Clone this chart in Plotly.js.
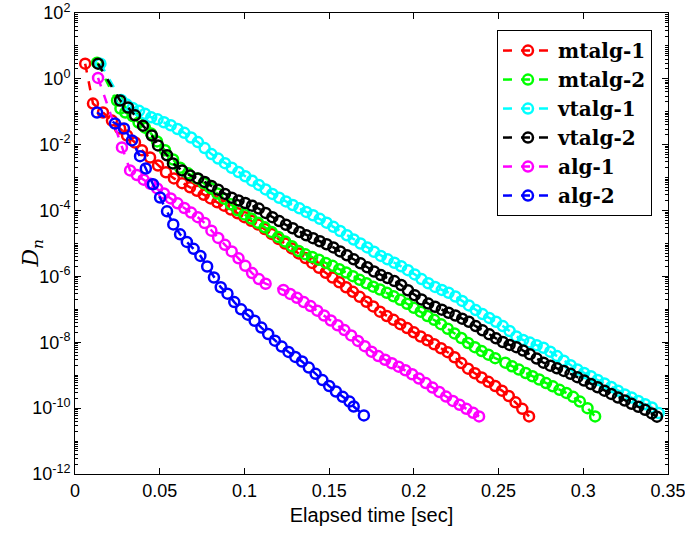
<!DOCTYPE html>
<html>
<head>
<meta charset="utf-8">
<script src="https://cdn.plot.ly/plotly-3.0.1.min.js"></script>
<style>html,body{margin:0;padding:0;background:#fff;}#chart{width:685px;height:534px;}</style>
</head>
<body>
<div id="chart"></div>
<script>
// ---- data (elapsed time [sec], D_n) ----
const seriesNames = ["mtalg-1", "mtalg-2", "vtalg-1", "vtalg-2", "alg-1", "alg-2"];
const seriesColors = ["#ff0000", "#00ff00", "#00ffff", "#000000", "#ff00ff", "#0000ff"];

const mtalg1_t = [0.006,0.0106,0.0165,0.0218,0.0266,0.0307,0.0354,0.0395,0.0443,0.049,0.0537,0.0584,0.0632,0.0679,
  0.072,0.076,0.080,0.084,0.088,0.092,0.096,0.100,0.104,0.108,0.112,0.116,0.120,0.124,0.128,0.132,0.136,0.140,0.144,0.148,
  0.152,0.156,0.160,0.164,0.168,0.172,0.176,0.180,0.184,0.188,0.192,0.196,0.200,0.204,0.208,0.212,0.216,0.220,0.224,0.228,
  0.232,0.236,0.240,0.244,0.248,0.252,0.256,0.260,0.264,0.268];
const mtalg1_D = [2.9,0.178,0.095,0.054,3.1e-2,1.9e-2,1.17e-2,6.8e-3,4.1e-3,2.34e-3,1.45e-3,9.5e-4,6.8e-4,5.1e-4,
  4.0e-4,3.0e-4,2.34e-4,1.78e-4,1.41e-4,1.07e-4,8.3e-5,6.3e-5,4.9e-5,3.8e-5,2.75e-5,1.95e-5,1.38e-5,1.0e-5,7.1e-6,5.0e-6,3.6e-6,2.57e-6,1.82e-6,1.29e-6,
  9.3e-7,6.6e-7,4.7e-7,3.4e-7,2.4e-7,1.7e-7,1.23e-7,8.5e-8,6.3e-8,4.8e-8,3.55e-8,2.7e-8,2.0e-8,1.5e-8,1.15e-8,8.7e-9,6.6e-9,5.0e-9,3.5e-9,2.34e-9,
  1.58e-9,1.15e-9,8.5e-10,6.3e-10,4.7e-10,3.4e-10,2.34e-10,1.5e-10,9.5e-11,5.6e-11];

const mtalg2_t = [0.013,0.0248,0.0268,0.0297,0.034,0.0375,0.0413,0.0448,0.0484,0.0531,0.0579,0.062,0.0667,0.072,
  0.076,0.080,0.084,0.088,0.092,0.096,0.100,0.104,0.108,0.112,0.116,0.120,0.124,0.128,0.132,0.136,0.140,0.144,0.148,0.152,
  0.156,0.160,0.164,0.168,0.172,0.176,0.180,0.184,0.188,0.192,0.196,0.200,0.204,0.208,0.212,0.216,0.220,0.224,0.228,0.232,
  0.236,0.240,0.244,0.248,0.254,0.258,0.262,0.266,0.270,0.274,0.278,0.282,0.286,0.290,0.294,0.298,0.3025,0.307];
const mtalg2_D = [3.1,0.22,0.126,0.095,0.074,0.047,0.033,0.022,0.0126,6.8e-3,3.55e-3,2.0e-3,1.35e-3,9.5e-4,
  6.8e-4,4.8e-4,3.3e-4,2.3e-4,1.55e-4,1.02e-4,7.6e-5,5.75e-5,4.3e-5,3.1e-5,2.24e-5,1.58e-5,1.15e-5,8.3e-6,5.9e-6,4.7e-6,3.9e-6,3.2e-6,2.57e-6,2.1e-6,
  1.66e-6,1.32e-6,1.02e-6,7.9e-7,6.2e-7,4.9e-7,4.0e-7,3.2e-7,2.5e-7,1.95e-7,1.48e-7,1.12e-7,8.5e-8,6.3e-8,4.8e-8,3.55e-8,2.57e-8,1.86e-8,1.35e-8,9.5e-9,
  7.1e-9,5.4e-9,4.2e-9,3.3e-9,2.4e-9,1.86e-9,1.48e-9,1.17e-9,9.3e-10,7.4e-10,5.75e-10,4.6e-10,3.6e-10,2.9e-10,2.2e-10,1.58e-10,1.0e-10,5.6e-11];

const vtalg1_t = [0.015,0.0272,0.0305,0.034,0.0378,0.0413,0.045,0.0487,0.0525,0.0565,0.0605,0.0645,0.0685,0.0725,
  0.0765,0.0805,0.0845,0.0885,0.0925,0.0965,0.1005,0.1045,0.1085,0.1125,0.1165,0.1205,0.1245,0.1285,0.1325,0.1365,0.1405,
  0.1445,0.1485,0.1525,0.1565,0.1605,0.1645,0.1685,0.1725,0.1765,0.1805,0.1845,0.1885,0.1925,0.1965,0.2005,0.2045,0.2085,
  0.2125,0.2165,0.2205,0.2245,0.2285,0.2325,0.2365,0.2405,0.2445,0.2485,0.2525,0.2565,0.2605,0.2645,0.2685,0.2725,0.2765,
  0.2805,0.2845,0.2885,0.2925,0.2965,0.3005,0.3045,0.3085,0.3125,0.3165,0.3205,0.3245,0.3285,0.3325,0.3365,0.3405,0.3445];
const vtalg1_D = [2.9,0.23,0.166,0.13,0.107,0.087,0.068,0.059,0.048,0.039,0.030,0.023,0.0166,0.012,
  7.9e-3,5.2e-3,3.8e-3,2.75e-3,2.0e-3,1.48e-3,1.1e-3,8.1e-4,6.0e-4,4.4e-4,3.2e-4,2.45e-4,1.9e-4,1.48e-4,1.17e-4,9.1e-5,7.2e-5,
  5.6e-5,4.3e-5,3.2e-5,2.4e-5,1.78e-5,1.32e-5,1.0e-5,7.6e-6,5.6e-6,4.2e-6,3.3e-6,2.6e-6,2.04e-6,1.55e-6,1.15e-6,8.3e-7,6.2e-7,
  4.8e-7,3.9e-7,3.2e-7,2.45e-7,1.8e-7,1.32e-7,9.5e-8,7.2e-8,5.5e-8,4.2e-8,3.1e-8,2.2e-8,1.5e-8,1.17e-8,9.8e-9,8.1e-9,6.8e-9,
  5.2e-9,3.8e-9,2.75e-9,2.0e-9,1.5e-9,1.17e-9,9.3e-10,7.2e-10,5.6e-10,4.4e-10,3.4e-10,2.6e-10,2.1e-10,1.66e-10,1.32e-10,1.05e-10,7.1e-11];

const vtalg2_t = [0.0136,0.0266,0.0313,0.0354,0.0401,0.0454,0.049,0.0543,0.0578,0.0632,0.0679,0.0726,
  0.0765,0.0805,0.0845,0.0885,0.0925,0.0965,0.1005,0.1045,0.1085,0.1125,0.1165,0.1205,0.1245,0.1285,0.1325,0.1365,0.1405,
  0.1445,0.1485,0.1525,0.1565,0.1605,0.1645,0.1685,0.1725,0.1765,0.1805,0.1845,0.1885,0.1925,0.1965,0.2005,0.2045,0.2085,
  0.2125,0.2165,0.2205,0.2245,0.2285,0.2325,0.2365,0.2405,0.2445,0.2485,0.2525,0.2565,0.2605,0.2645,0.2685,0.2725,0.2765,
  0.2805,0.2845,0.2885,0.2925,0.2965,0.3005,0.3045,0.3085,0.3125,0.3165,0.3205,0.3245,0.3285,0.3325,0.3365,0.3405,0.3435];
const vtalg2_D = [2.9,0.22,0.135,0.078,0.038,0.019,9.5e-3,4.8e-3,2.7e-3,1.66e-3,1.17e-3,9.5e-4,
  7.4e-4,5.6e-4,4.3e-4,3.2e-4,2.45e-4,2.04e-4,1.7e-4,1.41e-4,1.15e-4,8.5e-5,6.3e-5,4.8e-5,3.7e-5,2.9e-5,2.24e-5,1.78e-5,1.45e-5,
  1.17e-5,9.5e-6,7.6e-6,5.75e-6,4.4e-6,3.3e-6,2.5e-6,1.9e-6,1.41e-6,1.1e-6,8.9e-7,7.2e-7,5.5e-7,3.8e-7,2.7e-7,2.0e-7,1.5e-7,
  1.2e-7,9.8e-8,7.9e-8,6.5e-8,5.2e-8,4.2e-8,3.1e-8,2.3e-8,1.74e-8,1.32e-8,1.02e-8,8.3e-9,7.1e-9,5.6e-9,4.3e-9,3.2e-9,2.4e-9,
  1.95e-9,1.62e-9,1.35e-9,1.1e-9,8.7e-10,6.9e-10,5.4e-10,4.3e-10,3.4e-10,2.7e-10,2.1e-10,1.7e-10,1.35e-10,1.1e-10,8.9e-11,6.9e-11,5.5e-11];

const alg1_t = [0.0136,0.0277,0.0325,0.0365,0.0405,0.0445,0.0485,0.0525,0.0565,0.0605,0.0645,0.0685,0.0725,0.0765,
  0.0805,0.0845,0.0885,0.0925,0.0965,0.1005,0.1045,0.1085,0.1125,0.123,0.127,0.131,0.135,0.139,0.143,0.147,0.151,0.155,
  0.159,0.163,0.167,0.171,0.175,0.179,0.183,0.187,0.191,0.195,0.199,0.203,0.207,0.211,0.215,0.219,0.223,0.227,0.231,0.235,0.2385];
const alg1_D = [1.07,8.3e-3,1.66e-3,1.2e-3,8.7e-4,6.5e-4,4.7e-4,3.3e-4,2.34e-4,1.66e-4,1.2e-4,8.7e-5,6.3e-5,4.2e-5,
  2.45e-5,1.48e-5,9.1e-6,5.75e-6,3.55e-6,2.1e-6,1.26e-6,8.3e-7,6.0e-7,3.9e-7,2.95e-7,2.24e-7,1.66e-7,1.26e-7,9.1e-8,6.5e-8,4.6e-8,3.3e-8,
  2.34e-8,1.62e-8,1.1e-8,7.6e-9,5.2e-9,3.8e-9,2.95e-9,2.3e-9,1.82e-9,1.41e-9,1.07e-9,7.9e-10,5.75e-10,4.2e-10,3.1e-10,2.24e-10,1.66e-10,1.26e-10,9.5e-11,7.2e-11,5.6e-11];

const alg2_t = [0.013,0.0236,0.0289,0.0336,0.0384,0.0418,0.046,0.0502,0.0543,0.058,0.062,0.066,0.070,0.074,0.078,0.082,
  0.086,0.090,0.094,0.098,0.102,0.106,0.110,0.114,0.118,0.122,0.126,0.130,0.134,0.138,0.142,0.146,0.150,0.154,0.158,0.162,0.1645,0.1705];
const alg2_D = [0.095,0.044,0.031,0.0135,4.5e-3,1.9e-3,6.3e-4,2.5e-4,9.5e-5,3.8e-5,1.9e-5,1.12e-5,6.9e-6,4.2e-6,2.0e-6,9.3e-7,
  4.7e-7,3.0e-7,1.66e-7,1.0e-7,6.9e-8,4.5e-8,2.8e-8,1.78e-8,1.12e-8,7.4e-9,5.1e-9,3.6e-9,2.6e-9,1.7e-9,1.1e-9,7.1e-10,4.7e-10,3.2e-10,2.2e-10,1.58e-10,1.12e-10,6.0e-11];

const xTickVals = [0, 0.05, 0.1, 0.15, 0.2, 0.25, 0.3, 0.35];
const xTickText = ["0", "0.05", "0.1", "0.15", "0.2", "0.25", "0.3", "0.35"];
const yTickVals = [1e2, 1e0, 1e-2, 1e-4, 1e-6, 1e-8, 1e-10, 1e-12];
const yTickText = ["10<sup>2</sup>", "10<sup>0</sup>", "10<sup>-2</sup>", "10<sup>-4</sup>", "10<sup>-6</sup>",
                   "10<sup>-8</sup>", "10<sup>-10</sup>", "10<sup>-12</sup>"];

// ---- build traces ----
const xs = [mtalg1_t, mtalg2_t, vtalg1_t, vtalg2_t, alg1_t, alg2_t];
const ys = [mtalg1_D, mtalg2_D, vtalg1_D, vtalg2_D, alg1_D, alg2_D];
const traces = seriesNames.map((name, i) => ({
  type: "scatter",
  mode: "lines+markers",
  name: name,
  x: xs[i],
  y: ys[i],
  line: {color: seriesColors[i], width: 2.5, dash: "dash"},
  marker: {symbol: "circle-open", size: 10, color: seriesColors[i], line: {width: 2.5, color: seriesColors[i]}}
}));

const tickFont = {family: "Liberation Sans, Arial, sans-serif", size: 18, color: "#000"};

const layout = {
  width: 685,
  height: 534,
  margin: {l: 75, r: 17, t: 13, b: 60},
  paper_bgcolor: "#fff",
  plot_bgcolor: "#fff",
  showlegend: true,
  xaxis: {
    range: [-0.00001, 0.35001],
    tickmode: "array",
    tickvals: xTickVals,
    ticktext: xTickText,
    ticklabeloverflow: "allow",
    ticks: "inside",
    ticklen: 6,
    tickwidth: 1,
    tickcolor: "#000",
    showline: true,
    linecolor: "#000",
    linewidth: 1,
    mirror: "ticks",
    showgrid: false,
    zeroline: false,
    tickfont: tickFont,
    title: {text: "Elapsed time [sec]", font: {family: tickFont.family, size: 20, color: "#000"}, standoff: 8}
  },
  yaxis: {
    type: "log",
    range: [-12.0005, 2.0005],
    tickmode: "array",
    tickvals: yTickVals,
    ticktext: yTickText,
    ticklabeloverflow: "allow",
    ticks: "inside",
    ticklen: 6,
    tickwidth: 1,
    tickcolor: "#000",
    minor: {ticks: "inside", ticklen: 3, dtick: "D1", tickcolor: "#000", showgrid: false},
    showline: true,
    linecolor: "#000",
    linewidth: 1,
    mirror: "ticks",
    showgrid: false,
    zeroline: false,
    tickfont: tickFont
  },
  annotations: [{
    xref: "paper", yref: "paper",
    x: -0.071, y: 0.48,
    xanchor: "center", yanchor: "middle",
    textangle: -90,
    showarrow: false,
    text: "<i>D</i><sub><i>n</i></sub>",
    font: {family: "DejaVu Serif, Liberation Serif, serif", size: 22, color: "#000"}
  }],
  legend: {
    x: 0.973,
    y: 0.963,
    xanchor: "right",
    yanchor: "top",
    bgcolor: "#fff",
    bordercolor: "#000",
    borderwidth: 1,
    itemwidth: 50,
    font: {family: "DejaVu Serif, Liberation Serif, serif", size: 20, color: "#000", weight: "bold"},
    tracegroupgap: 0
  }
};

Plotly.newPlot("chart", traces, layout, {displayModeBar: false, staticPlot: true});
</script>
</body>
</html>
